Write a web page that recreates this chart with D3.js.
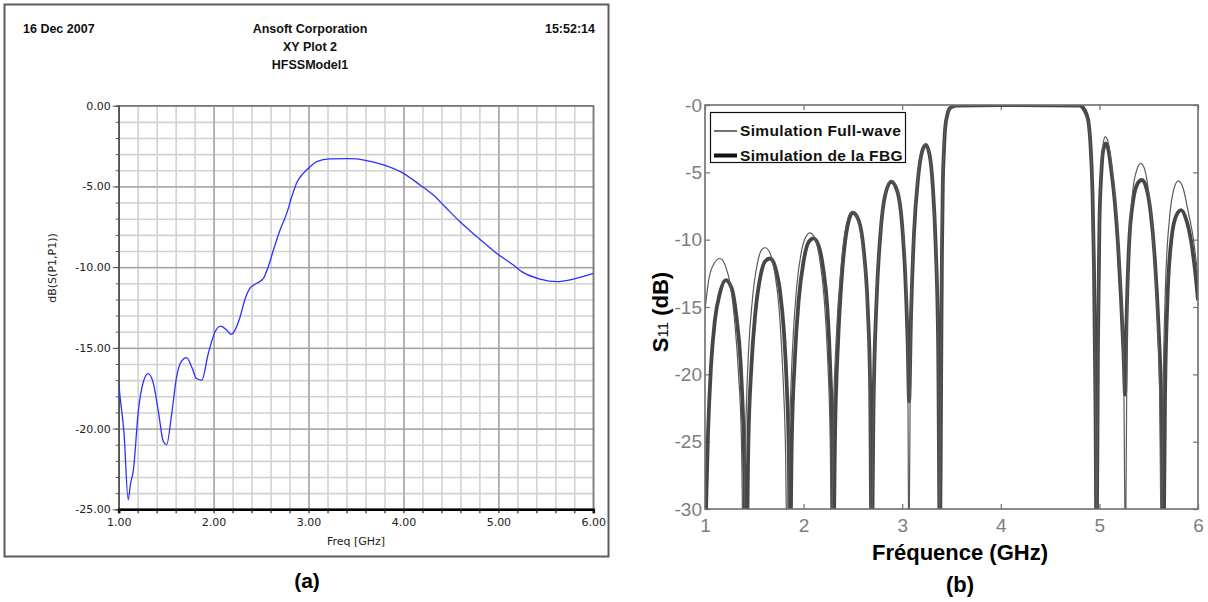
<!DOCTYPE html>
<html>
<head>
<meta charset="utf-8">
<script src="https://cdnjs.cloudflare.com/ajax/libs/d3/7.8.5/d3.min.js"></script>
<style>
	body { margin: 0; background: #fff; }
	svg { display: block; }
</style>
</head>
<body>
<script>
// Panel (a) - HFSS S11
var freqA = [1.00, 1.014, 1.056, 1.10, 1.125, 1.154, 1.207, 1.26, 1.31, 1.365, 1.417, 1.47, 1.505,
	1.558, 1.61, 1.664, 1.716, 1.77, 1.82, 1.875, 1.944, 2.015, 2.075, 2.138, 2.183, 2.225, 2.278,
	2.33, 2.383, 2.454, 2.524, 2.576, 2.63, 2.70, 2.77, 2.823, 2.882, 2.945, 3.016, 3.086, 3.227,
	3.40, 3.508, 3.613, 3.79, 4.00, 4.175, 4.315, 4.438, 4.596, 4.772, 4.983, 5.158, 5.246, 5.439,
	5.615, 5.79, 6.00];
var dbA = [-17.2, -18.0, -20.3, -24.4, -23.4, -22.6, -18.9, -17.1, -16.6, -17.2, -18.9, -20.8, -21.0,
	-19.1, -16.8, -15.8, -15.6, -16.2, -16.9, -17.0, -15.35, -14.0, -13.65, -13.9, -14.16, -13.9, -13.1,
	-12.0, -11.3, -11.0, -10.7, -9.97, -8.94, -7.7, -6.67, -5.64, -4.7, -4.19, -3.78, -3.47, -3.30,
	-3.28, -3.30, -3.40, -3.67, -4.19, -4.91, -5.53, -6.26, -7.19, -8.11, -9.15, -9.87, -10.28, -10.74,
	-10.9, -10.74, -10.39];
var xTicksA = [1, 2, 3, 4, 5, 6];
var yTicksA = [0, -5, -10, -15, -20, -25];
var headerA = ['16 Dec 2007', 'Ansoft Corporation', 'XY Plot 2', 'HFSSModel1', '15:52:14'];

// Panel (b) - Full-wave vs FBG
var freqFullWave = [1.00, 1.04, 1.09, 1.15, 1.21, 1.26, 1.30, 1.34, 1.37, 1.39,
	1.41, 1.44, 1.48, 1.53, 1.58, 1.61, 1.66, 1.71, 1.75, 1.79, 1.815, 1.835,
	1.855, 1.885, 1.93, 1.98, 2.03, 2.065, 2.12, 2.17, 2.21, 2.245, 2.27, 2.285,
	2.30, 2.33, 2.38, 2.43, 2.49, 2.55, 2.60, 2.645, 2.67, 2.688,
	2.705, 2.735, 2.775, 2.83, 2.89, 2.95, 3.00, 3.035, 3.055, 3.068,
	3.085, 3.115, 3.155, 3.20, 3.24, 3.28, 3.31, 3.34, 3.365, 3.38,
	3.392, 3.40, 3.41, 3.42, 3.435, 3.46, 3.49, 3.55, 4.00, 4.78, 4.82, 4.86, 4.89, 4.91, 4.93, 4.945, 4.96, 4.97,
	4.985, 5.00, 5.02, 5.04, 5.06, 5.09, 5.12, 5.16, 5.19, 5.22, 5.245, 5.265,
	5.28, 5.30, 5.34, 5.38, 5.42, 5.46, 5.50, 5.54, 5.58, 5.61, 5.63,
	5.645, 5.67, 5.71, 5.75, 5.80, 5.85, 5.90, 5.95, 6.00];
var dbFullWave = [-15.2, -12.9, -11.8, -11.4, -12.0, -13.5, -16.0, -20.0, -25.0, -34,
	-25, -18.5, -14.5, -11.8, -10.7, -10.6, -11.0, -12.6, -15.0, -20.0, -25.0, -34,
	-25, -18.5, -13.5, -10.8, -9.7, -9.5, -10.0, -11.8, -14.5, -19.0, -25.0, -34,
	-24, -17.5, -12.0, -9.0, -7.9, -8.5, -10.6, -14.8, -20.5, -34,
	-24, -15.0, -9.8, -6.5, -5.6, -6.3, -8.8, -12.5, -18.0, -34,
	-17, -10.0, -5.6, -3.5, -2.95, -3.8, -6.0, -10.5, -18.0, -34,
	-20, -11, -5.8, -3.6, -1.7, -0.65, -0.2, -0.05, 0, -0.05, -0.25, -0.8, -1.4, -3.0, -6.5, -12, -22, -34,
	-17, -8.5, -4.5, -2.8, -2.35, -2.8, -4.3, -7.0, -10.0, -14.0, -19.0, -34,
	-17, -10.5, -6.3, -4.8, -4.33, -4.8, -6.5, -9.5, -14.5, -21.0, -34,
	-22, -13.5, -8.5, -6.4, -5.64, -6.2, -7.9, -9.8, -12.8];
var freqFBG = [1.00, 1.03, 1.06, 1.10, 1.15, 1.21, 1.27, 1.32, 1.36, 1.39, 1.42,
	1.44, 1.47, 1.51, 1.56, 1.61, 1.66, 1.71, 1.76, 1.80, 1.83, 1.85, 1.862,
	1.88, 1.91, 1.95, 2.00, 2.05, 2.10, 2.15, 2.20, 2.24, 2.27, 2.29, 2.30,
	2.32, 2.35, 2.39, 2.44, 2.50, 2.56, 2.61, 2.65, 2.675, 2.69,
	2.71, 2.74, 2.78, 2.83, 2.89, 2.95, 3.00, 3.03, 3.055, 3.07,
	3.09, 3.12, 3.16, 3.20, 3.24, 3.28, 3.31, 3.34, 3.365, 3.383,
	3.395, 3.403, 3.412, 3.422, 3.436, 3.46, 3.49, 3.55, 4.00, 4.80, 4.84, 4.87, 4.89, 4.91, 4.93, 4.945, 4.96, 4.972,
	4.985, 5.00, 5.02, 5.04, 5.065, 5.09, 5.12, 5.16, 5.19, 5.22, 5.245, 5.26,
	5.275, 5.30, 5.34, 5.39, 5.43, 5.47, 5.52, 5.56, 5.60, 5.63, 5.65,
	5.665, 5.69, 5.73, 5.78, 5.83, 5.88, 5.93, 5.97, 6.00];
var dbFBG = [-33, -24.5, -19.5, -16.0, -14.0, -13.0, -13.6, -15.8, -19.0, -24.0, -34,
	-25, -19.5, -15.5, -12.8, -11.6, -11.4, -12.0, -13.8, -16.8, -21.0, -26.0, -34,
	-25, -19.0, -14.5, -11.6, -10.2, -9.9, -10.4, -12.2, -15.0, -19.5, -25.0, -34,
	-24, -17.5, -12.5, -9.2, -8.0, -8.6, -10.8, -15.0, -21.0, -34,
	-22, -14.5, -9.5, -6.6, -5.7, -6.4, -9.0, -12.5, -17.5, -22.0,
	-15.5, -9.5, -5.5, -3.5, -2.97, -3.8, -6.0, -10.5, -18.0, -34,
	-20, -11, -5.8, -3.6, -1.7, -0.65, -0.2, -0.05, 0, -0.05, -0.25, -0.7, -1.3, -3.0, -6.5, -12, -22, -34,
	-18, -9.0, -5.0, -3.3, -2.85, -3.3, -4.8, -7.5, -10.5, -14.5, -18.5, -21.5,
	-16, -10.5, -7.2, -5.8, -5.57, -6.0, -8.0, -11.2, -16.5, -23.0, -34,
	-22, -14.5, -10.0, -8.2, -7.8, -8.5, -10.1, -12.3, -14.5];
var xTicksB = [1, 2, 3, 4, 5, 6];
var yTicksB = [0, -5, -10, -15, -20, -25, -30];
var yTickLabelsB = ['-0', '-5', '-10', '-15', '-20', '-25', '-30'];
var legendLabels = ['Simulation Full-wave', 'Simulation de la FBG'];

var sans = 'Liberation Sans, Arial, sans-serif';
var svg = d3.select('body').append('svg')
		.attr('width', 1208)
		.attr('height', 602);

// ---------- Panel (a) ----------
var a = { left: 118.7, right: 593.3, top: 105.7, bottom: 509.3 };
var xA = d3.scaleLinear().domain([1, 6]).range([a.left, a.right]);
var yA = d3.scaleLinear().domain([-25, 0]).range([a.bottom, a.top]);
var hA = a.bottom - a.top, wA = a.right - a.left;

svg.append('rect')
		.attr('x', 4.5).attr('y', 4.5)
		.attr('width', 604).attr('height', 552)
		.attr('fill', 'none')
		.attr('stroke', '#5c5c5c')
		.attr('stroke-width', 2);

// header
var header = svg.append('g')
		.style('font-family', sans)
		.style('font-weight', 'bold')
		.style('font-size', '12.5px')
		.attr('fill', '#111');
header.append('text').attr('x', 23).attr('y', 33).text(headerA[0]);
header.append('text').attr('x', 310).attr('y', 33).attr('text-anchor', 'middle').text(headerA[1]);
header.append('text').attr('x', 310).attr('y', 51).attr('text-anchor', 'middle').text(headerA[2]);
header.append('text').attr('x', 310).attr('y', 69).attr('text-anchor', 'middle').text(headerA[3]);
header.append('text').attr('x', 595).attr('y', 33).attr('text-anchor', 'end').text(headerA[4]);

// grid
var minorX = d3.range(1, 6.001, 0.2), minorY = d3.range(-25, 0.001, 1);
function gridStyle(g, color, width) {
	g.select('.domain').remove();
	g.selectAll('line').attr('stroke', color).attr('stroke-width', width);
}
svg.append('g')
		.attr('transform', 'translate(0,' + a.bottom + ')')
		.call(d3.axisBottom(xA).tickValues(minorX).tickSize(-hA).tickFormat(''))
		.call(gridStyle, '#d2d2d2', 1.6);
svg.append('g')
		.attr('transform', 'translate(' + a.left + ',0)')
		.call(d3.axisLeft(yA).tickValues(minorY).tickSize(-wA).tickFormat(''))
		.call(gridStyle, '#d2d2d2', 1.6);
svg.append('g')
		.attr('transform', 'translate(0,' + a.bottom + ')')
		.call(d3.axisBottom(xA).tickValues(xTicksA).tickSize(-hA).tickFormat(''))
		.call(gridStyle, '#a2a2a2', 1.4);
svg.append('g')
		.attr('transform', 'translate(' + a.left + ',0)')
		.call(d3.axisLeft(yA).tickValues(yTicksA).tickSize(-wA).tickFormat(''))
		.call(gridStyle, '#a2a2a2', 1.4);
svg.append('rect')
		.attr('x', a.left).attr('y', a.top)
		.attr('width', wA).attr('height', hA)
		.attr('fill', 'none')
		.attr('stroke', '#777')
		.attr('stroke-width', 1.4);

// axes
var tickFont = 'DejaVu Sans, sans-serif';
svg.append('g')
		.attr('transform', 'translate(' + a.left + ',0)')
		.call(d3.axisLeft(yA).tickValues(minorY).tickSize(3).tickFormat(''))
		.call(function(g) {
			g.select('.domain').attr('stroke', '#555').attr('stroke-width', 1.6);
			g.selectAll('line').attr('stroke', '#555');
		});
svg.append('g')
		.attr('transform', 'translate(' + a.left + ',0)')
		.call(d3.axisLeft(yA).tickValues(yTicksA).tickSize(6).tickPadding(2)
			.tickFormat(function(d) { return d.toFixed(2); }))
		.call(function(g) {
			g.select('.domain').remove();
			g.selectAll('line').attr('stroke', '#555');
			g.selectAll('text').attr('fill', '#222').style('font-family', tickFont).style('font-size', '11px');
		});
svg.append('g')
		.attr('transform', 'translate(0,' + a.bottom + ')')
		.call(d3.axisBottom(xA).tickValues(minorX).tickSize(4).tickPadding(5)
			.tickFormat(function(d) {
				return xTicksA.indexOf(Math.round(d * 10) / 10) >= 0 ? d.toFixed(2) : '';
			}))
		.call(function(g) {
			g.select('.domain').attr('stroke', '#000').attr('stroke-width', 2.6);
			g.selectAll('line').attr('stroke', '#222').attr('stroke-width', 1.2);
			g.selectAll('text').attr('fill', '#222').style('font-family', tickFont).style('font-size', '11px');
		});

svg.append('text')
		.attr('x', (a.left + a.right) / 2)
		.attr('y', 545)
		.attr('text-anchor', 'middle')
		.style('font-family', tickFont)
		.style('font-size', '11px')
		.attr('fill', '#222')
		.text('Freq [GHz]');
svg.append('text')
		.attr('transform', 'translate(56,268) rotate(-90)')
		.attr('text-anchor', 'middle')
		.style('font-family', tickFont)
		.style('font-size', '11px')
		.attr('fill', '#222')
		.text('dB(S(P1,P1))');

// curve
svg.append('clipPath').attr('id', 'clipA')
	.append('rect')
		.attr('x', a.left).attr('y', a.top)
		.attr('width', wA).attr('height', hA);
var lineA = d3.line()
		.x(function(d, i) { return xA(freqA[i]); })
		.y(function(d) { return yA(d); })
		.curve(d3.curveMonotoneX);
svg.append('path')
		.attr('clip-path', 'url(#clipA)')
		.attr('d', lineA(dbA))
		.attr('fill', 'none')
		.attr('stroke', '#2f2fff')
		.attr('stroke-width', 1.3);

svg.append('text')
		.attr('x', 307).attr('y', 588)
		.attr('text-anchor', 'middle')
		.style('font-family', sans)
		.style('font-weight', 'bold')
		.style('font-size', '21px')
		.text('(a)');

// ---------- Panel (b) ----------
var b = { left: 705, right: 1198, top: 105, bottom: 509 };
var xB = d3.scaleLinear().domain([1, 6]).range([b.left, b.right]);
var yB = d3.scaleLinear().domain([-30, 0]).range([b.bottom, b.top]);
var grey = '#7d7d7d';

function scanAxis(g) {
	g.select('.domain').remove();
	g.selectAll('line').attr('stroke', grey).attr('stroke-width', 1.3);
	g.selectAll('text').attr('fill', grey).style('font-family', sans).style('font-size', '19px');
}
svg.append('g')
		.attr('transform', 'translate(0,' + b.bottom + ')')
		.call(d3.axisBottom(xB).tickValues(xTicksB).tickSize(-5).tickPadding(10).tickFormat(d3.format('d')))
		.call(scanAxis);
svg.append('g')
		.attr('transform', 'translate(0,' + b.top + ')')
		.call(d3.axisBottom(xB).tickValues(xTicksB).tickSize(5).tickFormat(''))
		.call(scanAxis);
svg.append('g')
		.attr('transform', 'translate(' + b.left + ',0)')
		.call(d3.axisLeft(yB).tickValues(yTicksB).tickSize(-5).tickPadding(3)
			.tickFormat(function(d, i) { return yTickLabelsB[i]; }))
		.call(scanAxis);
svg.append('g')
		.attr('transform', 'translate(' + b.right + ',0)')
		.call(d3.axisLeft(yB).tickValues(yTicksB).tickSize(5).tickFormat(''))
		.call(scanAxis);

svg.append('clipPath').attr('id', 'clipB')
	.append('rect')
		.attr('x', b.left).attr('y', b.top)
		.attr('width', b.right - b.left).attr('height', b.bottom - b.top);

var lineFW = d3.line()
		.x(function(d, i) { return xB(freqFullWave[i]); })
		.y(function(d) { return yB(d); })
		.curve(d3.curveMonotoneX);
var lineFBG = d3.line()
		.x(function(d, i) { return xB(freqFBG[i]); })
		.y(function(d) { return yB(d); })
		.curve(d3.curveMonotoneX);

svg.append('path')
		.attr('clip-path', 'url(#clipB)')
		.attr('d', lineFBG(dbFBG))
		.attr('fill', 'none')
		.attr('stroke', '#474747')
		.attr('stroke-width', 3.8)
		.attr('stroke-linejoin', 'round');
svg.append('path')
		.attr('clip-path', 'url(#clipB)')
		.attr('d', lineFW(dbFullWave))
		.attr('fill', 'none')
		.attr('stroke', '#5a5a5a')
		.attr('stroke-width', 1.2);

// frame
svg.append('rect')
		.attr('x', b.left).attr('y', b.top)
		.attr('width', b.right - b.left).attr('height', b.bottom - b.top)
		.attr('fill', 'none')
		.attr('stroke', '#6e6e6e')
		.attr('stroke-width', 1.6);

// legend
var legend = svg.append('g');
legend.append('rect')
		.attr('x', 710.5).attr('y', 112.5)
		.attr('width', 195).attr('height', 50)
		.attr('fill', '#fff')
		.attr('stroke', '#111')
		.attr('stroke-width', 1.2);
legend.selectAll('.item')
		.data(legendLabels)
		.enter()
	.append('g')
		.attr('class', 'item')
		.attr('transform', function(d, i) { return 'translate(0,' + (131 + i * 24.5) + ')'; })
		.each(function(d, i) {
			var g = d3.select(this);
			g.append('line')
				.attr('x1', 714).attr('x2', 737)
				.attr('stroke', '#111')
				.attr('stroke-width', i === 0 ? 1.2 : 4);
			g.append('text')
				.attr('x', 740).attr('y', 5)
				.style('font-family', sans)
				.style('font-weight', 'bold')
				.style('font-size', '15.5px')
				.style('letter-spacing', '0.35px')
				.attr('fill', '#111')
				.text(d);
		});

// titles
svg.append('text')
		.attr('x', 960).attr('y', 560)
		.attr('text-anchor', 'middle')
		.style('font-family', sans)
		.style('font-weight', 'bold')
		.style('font-size', '22px')
		.text('Fréquence (GHz)');
var yTitle = svg.append('text')
		.attr('transform', 'translate(668,312) rotate(-90)')
		.attr('text-anchor', 'middle')
		.style('font-family', sans)
		.style('font-weight', 'bold')
		.style('font-size', '22px');
yTitle.append('tspan').text('S');
yTitle.append('tspan').style('font-size', '15px').style('font-weight', 'normal').text('11');
yTitle.append('tspan').text(' (dB)');
svg.append('text')
		.attr('x', 960).attr('y', 592)
		.attr('text-anchor', 'middle')
		.style('font-family', sans)
		.style('font-weight', 'bold')
		.style('font-size', '22px')
		.text('(b)');
</script>
</body>
</html>
